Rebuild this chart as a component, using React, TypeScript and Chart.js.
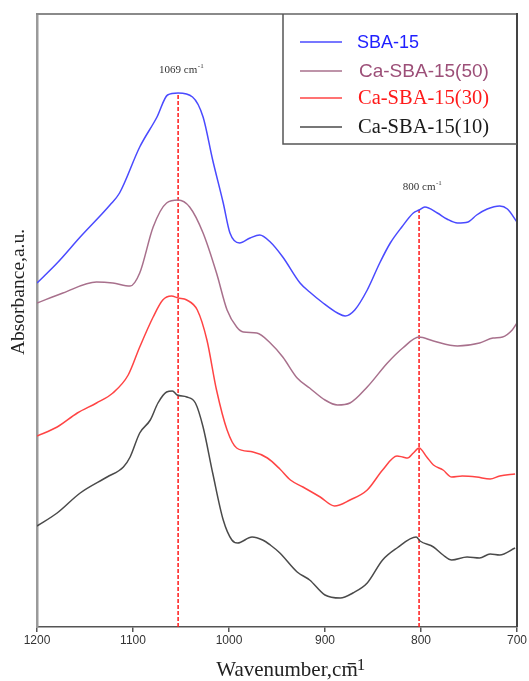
import { useEffect, useRef } from 'react';
import { Chart, registerables } from 'chart.js';

Chart.register(...registerables);

// Wavenumber axis (cm-1), drawn high to low
const wavenumberTicks = [1200, 1100, 1000, 900, 800, 700];

// SBA-15 spectrum (offset absorbance, a.u.)
const sba15Wn = [1200, 1179, 1155, 1124, 1114, 1093, 1075, 1064, 1053, 1038, 1027, 1017, 1006, 999, 989, 978, 968, 957, 944, 926, 916, 902, 887, 879, 869, 856, 843, 832, 820, 808, 802, 796, 783, 773, 762, 751, 742, 731, 718, 710, 700];
const sba15Abs = [3.44, 3.64, 3.9, 4.22, 4.34, 4.8, 5.1, 5.32, 5.34, 5.3, 5.1, 4.67, 4.24, 3.94, 3.84, 3.89, 3.92, 3.85, 3.7, 3.44, 3.35, 3.24, 3.14, 3.11, 3.17, 3.37, 3.64, 3.84, 4.0, 4.14, 4.17, 4.2, 4.14, 4.08, 4.04, 4.05, 4.12, 4.18, 4.21, 4.18, 4.05];

// Ca-SBA-15(50)
const ca50Wn = [1200, 1173, 1138, 1121, 1103, 1093, 1079, 1065, 1053, 1041, 1027, 1013, 1002, 992, 985, 971, 957, 944, 929, 916, 900, 887, 874, 856, 835, 819, 802, 787, 762, 739, 725, 715, 705, 700];
const ca50Abs = [3.24, 3.34, 3.45, 3.44, 3.41, 3.54, 4.0, 4.24, 4.27, 4.2, 3.94, 3.54, 3.17, 3.0, 2.95, 2.94, 2.84, 2.7, 2.49, 2.39, 2.27, 2.22, 2.24, 2.4, 2.64, 2.79, 2.9, 2.86, 2.81, 2.84, 2.89, 2.9, 2.97, 3.04];

// Ca-SBA-15(30)
const ca30Wn = [1200, 1179, 1158, 1138, 1121, 1105, 1093, 1079, 1069, 1060, 1053, 1044, 1033, 1023, 1013, 1002, 992, 975, 960, 947, 936, 923, 905, 890, 874, 856, 840, 825, 819, 814, 808, 802, 794, 787, 777, 768, 757, 742, 728, 718, 702];
const ca30Abs = [1.91, 2.0, 2.14, 2.24, 2.34, 2.52, 2.8, 3.1, 3.27, 3.31, 3.29, 3.27, 3.17, 2.87, 2.37, 1.97, 1.79, 1.75, 1.69, 1.58, 1.47, 1.4, 1.3, 1.21, 1.27, 1.37, 1.57, 1.71, 1.7, 1.69, 1.74, 1.79, 1.7, 1.62, 1.57, 1.5, 1.51, 1.5, 1.48, 1.51, 1.53];

// Ca-SBA-15(10)
const ca10Wn = [1200, 1179, 1155, 1127, 1110, 1103, 1093, 1082, 1074, 1065, 1059, 1054, 1044, 1035, 1027, 1017, 1006, 997, 991, 976, 965, 957, 947, 929, 916, 900, 884, 871, 856, 840, 825, 805, 801, 787, 777, 768, 752, 739, 728, 718, 702];
const ca10Abs = [1.01, 1.14, 1.34, 1.5, 1.6, 1.7, 1.94, 2.07, 2.24, 2.35, 2.36, 2.32, 2.3, 2.24, 2.0, 1.54, 1.07, 0.87, 0.84, 0.9, 0.87, 0.82, 0.74, 0.55, 0.47, 0.32, 0.29, 0.34, 0.44, 0.67, 0.79, 0.9, 0.86, 0.8, 0.72, 0.67, 0.7, 0.69, 0.73, 0.72, 0.79];

const seriesNames = ['SBA-15', 'Ca-SBA-15(50)', 'Ca-SBA-15(30)', 'Ca-SBA-15(10)'];
const seriesColors = ['#4a4aff', '#a8708c', '#ff4444', '#4a4a4a'];
const legendTextColors = ['#1f1fff', '#9c4f78', '#ff1a1a', '#1a1a1a'];
const legendFonts = [
  '18px "Liberation Sans", Arial, sans-serif',
  '19px "Liberation Sans", Arial, sans-serif',
  '20.5px "Liberation Serif", "Times New Roman", serif',
  '20.5px "Liberation Serif", "Times New Roman", serif',
];

// Marked band positions and their labels
const peakWn = [1053, 802];
const peakLabels = ['1069 cm', '800 cm'];

const seriesWn = [sba15Wn, ca50Wn, ca30Wn, ca10Wn];
const seriesAbs = [sba15Abs, ca50Abs, ca30Abs, ca10Abs];

const toPoints = (xs: number[], ys: number[]) => xs.map((x, i) => ({ x, y: ys[i] }));

const frameAndLegend = {
  id: 'frameAndLegend',
  afterDraw(chart: any) {
    const { ctx, chartArea } = chart;
    const { left, right, top, bottom } = chartArea;
    const xs = chart.scales.x;
    const ys = chart.scales.y;
    ctx.save();

    // top and right frame lines
    ctx.lineWidth = 2;
    ctx.strokeStyle = '#8a8a8a';
    ctx.beginPath();
    ctx.moveTo(left - 1, top);
    ctx.lineTo(right, top);
    ctx.stroke();
    ctx.strokeStyle = '#444';
    ctx.beginPath();
    ctx.moveTo(right, top - 1);
    ctx.lineTo(right, bottom);
    ctx.stroke();

    // legend box in the top-right corner
    const bx = 283;
    const by = top;
    const bw = right - bx;
    const bh = 130;
    ctx.fillStyle = '#fff';
    ctx.fillRect(bx, by + 1, bw - 1, bh - 1);
    ctx.strokeStyle = '#555';
    ctx.lineWidth = 1.5;
    ctx.beginPath();
    ctx.moveTo(bx, by);
    ctx.lineTo(bx, by + bh);
    ctx.lineTo(right, by + bh);
    ctx.stroke();

    const rowY = [42, 71, 98, 127];
    const textX = [357, 359, 358, 358];
    seriesNames.forEach((name, i) => {
      ctx.strokeStyle = seriesColors[i];
      ctx.lineWidth = 1.5;
      ctx.beginPath();
      ctx.moveTo(300, rowY[i]);
      ctx.lineTo(342, rowY[i]);
      ctx.stroke();
      ctx.fillStyle = legendTextColors[i];
      ctx.font = legendFonts[i];
      ctx.textAlign = 'left';
      ctx.textBaseline = 'middle';
      ctx.fillText(name, textX[i], rowY[i] + 1);
    });

    // band labels above the dashed markers
    const sbaTop = peakWn.map((w) => sba15Abs[sba15Wn.indexOf(w)]);
    peakWn.forEach((w, i) => {
      const px = xs.getPixelForValue(w) + 3;
      const py = ys.getPixelForValue(sbaTop[i]) - 24;
      ctx.font = '11px "Liberation Serif", "Times New Roman", serif';
      ctx.fillStyle = '#333';
      ctx.textBaseline = 'alphabetic';
      const mainW = ctx.measureText(peakLabels[i]).width;
      ctx.font = '7px "Liberation Serif", "Times New Roman", serif';
      const supW = ctx.measureText('-1').width;
      const x0 = px - (mainW + supW) / 2;
      ctx.font = '11px "Liberation Serif", "Times New Roman", serif';
      ctx.textAlign = 'left';
      ctx.fillText(peakLabels[i], x0, py + 4);
      ctx.font = '7px "Liberation Serif", "Times New Roman", serif';
      ctx.fillText('-1', x0 + mainW + 0.5, py - 1);
    });

    // axis titles
    ctx.fillStyle = '#222';
    ctx.font = '21px "Liberation Serif", "Times New Roman", serif';
    ctx.textAlign = 'left';
    ctx.textBaseline = 'alphabetic';
    const xt = 'Wavenumber,cm';
    const xtW = ctx.measureText(xt).width;
    const xtX = 287 - xtW / 2;
    ctx.fillText(xt, xtX, 676);
    // minus sign of the exponent, sitting just above the "m"
    ctx.fillRect(xtX + xtW - 10, 663, 8, 1.3);
    ctx.font = '17px "Liberation Serif", "Times New Roman", serif';
    ctx.fillText('1', xtX + xtW - 1, 670);

    ctx.save();
    ctx.translate(24, 292);
    ctx.rotate(-Math.PI / 2);
    ctx.font = '19.5px "Liberation Serif", "Times New Roman", serif';
    ctx.textAlign = 'center';
    ctx.fillText('Absorbance,a.u.', 0, 0);
    ctx.restore();

    ctx.restore();
  },
};

export default function App() {
  const canvasRef = useRef<HTMLCanvasElement | null>(null);

  useEffect(() => {
    if (!canvasRef.current) return;
    const sbaTop = peakWn.map((w) => sba15Abs[sba15Wn.indexOf(w)]);

    const markerSets = peakWn.map((w, i) => ({
      label: 'marker' + i,
      data: [
        { x: w, y: 0 },
        { x: w, y: sbaTop[i] },
      ],
      borderColor: '#ff1a1a',
      borderWidth: 1.5,
      borderDash: [4, 2],
      pointRadius: 0,
      tension: 0,
      fill: false,
    }));

    const lineSets = seriesNames.map((name, i) => ({
      label: name,
      data: toPoints(seriesWn[i], seriesAbs[i]),
      borderColor: seriesColors[i],
      borderWidth: 1.5,
      pointRadius: 0,
      cubicInterpolationMode: 'monotone',
      fill: false,
    }));

    const chart = new Chart(canvasRef.current, {
      type: 'line',
      data: { datasets: [...lineSets, ...markerSets] },
      options: {
        animation: false,
        responsive: true,
        maintainAspectRatio: false,
        layout: { padding: { left: 37, right: 12, top: 14, bottom: 0 } },
        plugins: {
          legend: { display: false },
          tooltip: { enabled: false },
        },
        scales: {
          x: {
            type: 'linear',
            reverse: true,
            min: 700,
            max: 1200,
            afterFit: (s: any) => {
              s.height = 54;
            },
            afterBuildTicks: (s: any) => {
              s.ticks = wavenumberTicks.map((v) => ({ value: v }));
            },
            ticks: {
              autoSkip: false,
              maxRotation: 0,
              padding: 1,
              color: '#333',
              font: { family: '"Liberation Sans", Arial, sans-serif', size: 12 },
              callback: (v: any) => String(v),
            },
            grid: {
              drawOnChartArea: false,
              drawTicks: true,
              tickLength: 5,
              color: '#555',
              lineWidth: 1.5,
            },
            border: { display: true, color: '#555', width: 1.5 },
          },
          y: {
            min: 0,
            max: 6.13,
            afterFit: (s: any) => {
              s.width = 0;
            },
            ticks: { display: false },
            grid: { display: false },
            border: { display: true, color: '#9a9a9a', width: 2.5 },
          },
        },
      },
      plugins: [frameAndLegend],
    } as any);

    return () => chart.destroy();
  }, []);

  return (
    <div style={{ position: 'absolute', left: 0, top: 0, width: 529, height: 681, background: '#fff' }}>
      <canvas ref={canvasRef} />
    </div>
  );
}
